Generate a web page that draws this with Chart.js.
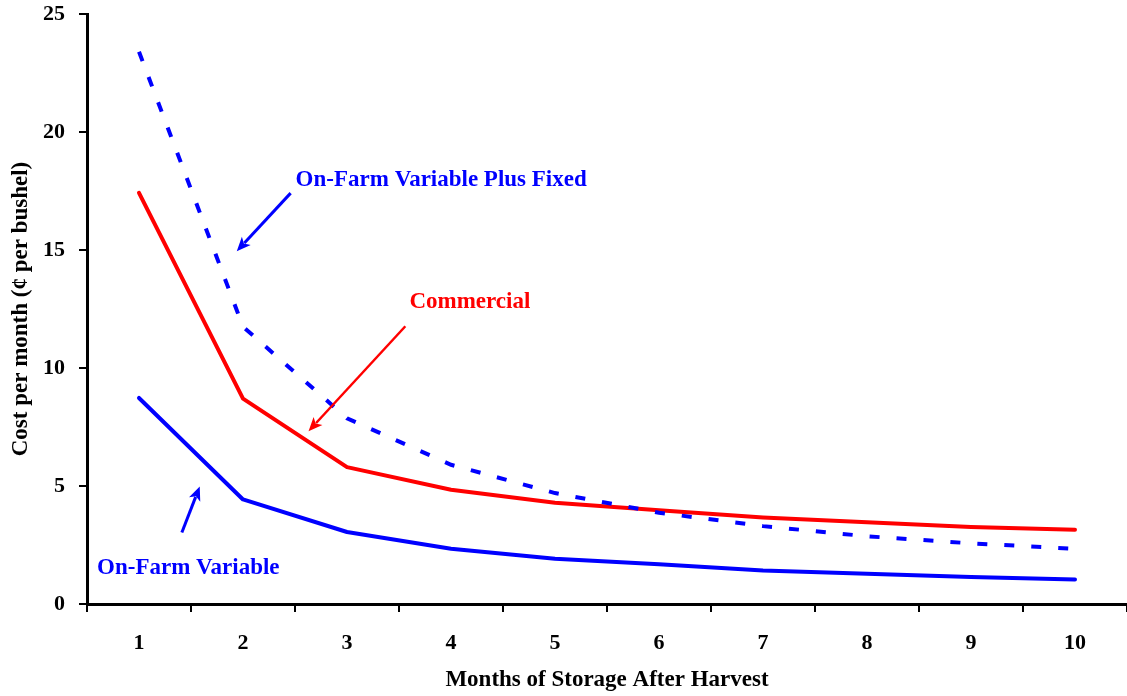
<!DOCTYPE html>
<html>
<head>
<meta charset="utf-8">
<script src="https://cdn.jsdelivr.net/npm/chart.js@4/dist/chart.umd.min.js"></script>
<style>
  html, body { margin: 0; padding: 0; background: #fff; }
  #wrap { width: 1127px; height: 696px; }
</style>
</head>
<body>
<div id="wrap"><canvas id="c" width="1127" height="696"></canvas></div>
<script>
const months = ['1', '2', '3', '4', '5', '6', '7', '8', '9', '10'];
const onFarmVariablePlusFixed = [23.4, 11.75, 7.87, 5.9, 4.7, 3.87, 3.3, 2.87, 2.57, 2.34];
const commercial = [17.42, 8.7, 5.8, 4.84, 4.29, 3.97, 3.67, 3.46, 3.26, 3.15];
const onFarmVariable = [8.73, 4.43, 3.05, 2.34, 1.92, 1.68, 1.42, 1.28, 1.14, 1.04];
const yTicks = [0, 5, 10, 15, 20, 25];

// Annotations in data units (x = category index, y = value)
const annotations = [
  { text: 'On-Farm Variable Plus Fixed', color: '#0000ff', x: 1.506, y: 17.96,
    arrow: { from: [1.458, 17.41], to: [0.94, 14.95], width: 3 } },
  { text: 'Commercial', color: '#ff0000', x: 2.60, y: 12.79,
    arrow: { from: [2.561, 11.77], to: [1.63, 7.32], width: 2.5 } },
  { text: 'On-Farm Variable', color: '#0000ff', x: -0.403, y: 1.51,
    arrow: { from: [0.412, 3.03], to: [0.584, 4.98], width: 3 } }
];

const FONT = "'Liberation Serif', 'Times New Roman', serif";

const annotationPlugin = {
  id: 'annot',
  afterDatasetsDraw(chart) {
    const ctx = chart.ctx;
    const xs = chart.scales.x, ys = chart.scales.y;
    const px = v => xs.getPixelForValue(v);
    const py = v => ys.getPixelForValue(v);
    ctx.save();
    annotations.forEach(a => {
      ctx.fillStyle = a.color;
      ctx.font = 'bold 23px ' + FONT;
      ctx.textAlign = 'left';
      ctx.textBaseline = 'middle';
      ctx.fillText(a.text, px(a.x), py(a.y));
      const x1 = px(a.arrow.from[0]), y1 = py(a.arrow.from[1]);
      const x2 = px(a.arrow.to[0]), y2 = py(a.arrow.to[1]);
      const ang = Math.atan2(y2 - y1, x2 - x1);
      const hl = 14, hw = 6;
      const c = Math.cos(ang), s = Math.sin(ang);
      ctx.strokeStyle = a.color;
      ctx.lineWidth = a.arrow.width;
      ctx.beginPath();
      ctx.moveTo(x1, y1);
      ctx.lineTo(x2 - c * hl * 0.8, y2 - s * hl * 0.8);
      ctx.stroke();
      ctx.beginPath();
      ctx.moveTo(x2, y2);
      ctx.lineTo(x2 - c * hl - s * hw, y2 - s * hl + c * hw);
      ctx.lineTo(x2 - c * hl * 0.75, y2 - s * hl * 0.75);
      ctx.lineTo(x2 - c * hl + s * hw, y2 - s * hl - c * hw);
      ctx.closePath();
      ctx.fill();
    });
    ctx.restore();
  }
};

new Chart(document.getElementById('c'), {
  type: 'line',
  data: {
    labels: months,
    datasets: [
      { label: 'On-Farm Variable Plus Fixed', data: onFarmVariablePlusFixed, borderColor: '#0000ff',
        borderWidth: 4, borderDash: [10, 17], borderCapStyle: 'butt', pointRadius: 0, tension: 0, fill: false },
      { label: 'Commercial', data: commercial, borderColor: '#ff0000',
        borderWidth: 4, borderCapStyle: 'round', borderJoinStyle: 'round', pointRadius: 0, tension: 0, fill: false },
      { label: 'On-Farm Variable', data: onFarmVariable, borderColor: '#0000ff',
        borderWidth: 4, borderCapStyle: 'round', borderJoinStyle: 'round', pointRadius: 0, tension: 0, fill: false }
    ]
  },
  options: {
    responsive: false,
    animation: false,
    layout: { padding: { top: 14, right: 0, bottom: 0, left: 0 } },
    plugins: { legend: { display: false }, tooltip: { enabled: false } },
    scales: {
      x: {
        type: 'category',
        offset: true,
        grid: { offset: true, drawOnChartArea: false, drawTicks: true, tickLength: 8, color: '#000', lineWidth: 2 },
        border: { display: true, color: '#000', width: 3 },
        ticks: { color: '#000', font: { family: FONT, size: 22, weight: 'bold' }, padding: 18, maxRotation: 0 },
        title: { display: true, text: 'Months of Storage After Harvest', color: '#000',
          font: { family: FONT, size: 23, weight: 'bold' }, padding: { top: 0, bottom: 2 } },
        afterFit: s => { s.height = 92; s.paddingLeft = 0; s.paddingRight = 0; }
      },
      y: {
        min: 0, max: 25,
        afterBuildTicks: s => { s.ticks = yTicks.map(v => ({ value: v })); },
        grid: { drawOnChartArea: false, drawTicks: true, tickLength: 8, color: '#000', lineWidth: 2 },
        border: { display: true, color: '#000', width: 3 },
        ticks: { color: '#000', font: { family: FONT, size: 22, weight: 'bold' }, padding: 14 },
        title: { display: true, text: 'Cost per month (¢ per bushel)', color: '#000',
          font: { family: FONT, size: 23, weight: 'bold' }, padding: { top: 7, bottom: 0 } },
        afterFit: s => { s.width = 87; s.paddingTop = 0; s.paddingBottom = 0; }
      }
    }
  },
  plugins: [annotationPlugin]
});
</script>
</body>
</html>
